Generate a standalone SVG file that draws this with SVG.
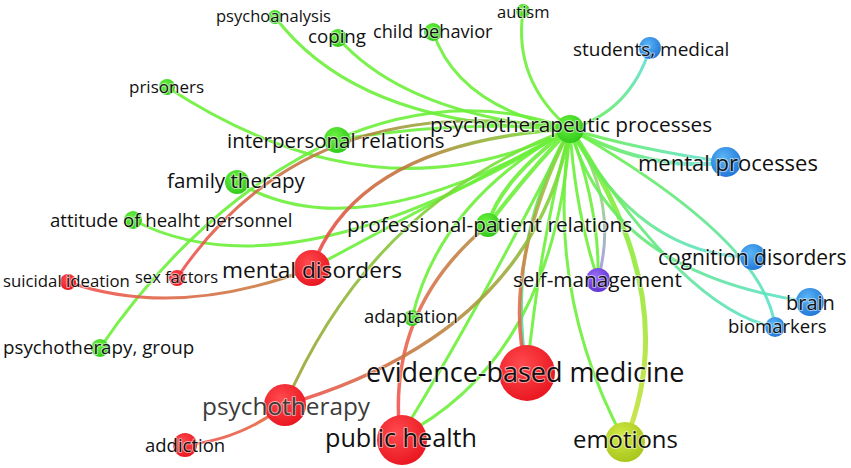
<svg xmlns="http://www.w3.org/2000/svg" width="851" height="468" viewBox="0 0 851 468">
<defs>
<style>
.e{fill:none;stroke-linecap:round;stroke-opacity:0.9}
.g{stroke:#6cf03a}
.t{font-family:"Open Sans","Noto Sans","DejaVu Sans",sans-serif;fill:#111111;stroke:#ffffff;stroke-width:2;stroke-opacity:0.55;paint-order:stroke;stroke-linejoin:round}
</style>
<radialGradient id="nG" cx="0.4" cy="0.35" r="0.7"><stop offset="0" stop-color="#6cf240"/><stop offset="1" stop-color="#2ec818"/></radialGradient>
<radialGradient id="nR" cx="0.4" cy="0.35" r="0.7"><stop offset="0" stop-color="#ff4a4e"/><stop offset="1" stop-color="#e8141e"/></radialGradient>
<radialGradient id="nB" cx="0.4" cy="0.35" r="0.7"><stop offset="0" stop-color="#5ab6f6"/><stop offset="1" stop-color="#1f74d6"/></radialGradient>
<radialGradient id="nP" cx="0.4" cy="0.35" r="0.7"><stop offset="0" stop-color="#9a6cf6"/><stop offset="1" stop-color="#5a30d0"/></radialGradient>
<radialGradient id="nY" cx="0.4" cy="0.35" r="0.7"><stop offset="0" stop-color="#d2ea46"/><stop offset="1" stop-color="#a6c41a"/></radialGradient>
<linearGradient id="gStu" gradientUnits="userSpaceOnUse" x1="650" y1="48" x2="570" y2="129"><stop offset="0" stop-color="#5ce0e0"/><stop offset="1" stop-color="#6cf03a"/></linearGradient>
<linearGradient id="gSex" gradientUnits="userSpaceOnUse" x1="177" y1="278" x2="570" y2="129"><stop offset="0" stop-color="#f25050"/><stop offset="0.55" stop-color="#b08a40"/><stop offset="1" stop-color="#6cf03a"/></linearGradient>
<linearGradient id="gMD" gradientUnits="userSpaceOnUse" x1="312" y1="268" x2="570" y2="129"><stop offset="0" stop-color="#f24848"/><stop offset="0.5" stop-color="#b8803c"/><stop offset="1" stop-color="#6cf03a"/></linearGradient>
<linearGradient id="gSui" gradientUnits="userSpaceOnUse" x1="68" y1="282" x2="312" y2="268"><stop offset="0" stop-color="#f25050"/><stop offset="1" stop-color="#c08a40"/></linearGradient>
<linearGradient id="gPH" gradientUnits="userSpaceOnUse" x1="400" y1="437" x2="488" y2="225"><stop offset="0" stop-color="#f25050"/><stop offset="0.5" stop-color="#e86a50"/><stop offset="1" stop-color="#b09040"/></linearGradient>
<linearGradient id="gEBr" gradientUnits="userSpaceOnUse" x1="527" y1="373" x2="570" y2="129"><stop offset="0" stop-color="#f25050"/><stop offset="0.5" stop-color="#d08a48"/><stop offset="1" stop-color="#6cf03a"/></linearGradient>
<linearGradient id="gEBc" gradientUnits="userSpaceOnUse" x1="527" y1="373" x2="570" y2="129"><stop offset="0" stop-color="#50d8b0"/><stop offset="1" stop-color="#6cf03a"/></linearGradient>
<linearGradient id="gPs1" gradientUnits="userSpaceOnUse" x1="285" y1="405" x2="570" y2="129"><stop offset="0" stop-color="#f25050"/><stop offset="0.45" stop-color="#b88a40"/><stop offset="1" stop-color="#6cf03a"/></linearGradient>
<linearGradient id="gPs2" gradientUnits="userSpaceOnUse" x1="285" y1="405" x2="570" y2="129"><stop offset="0" stop-color="#a0a038"/><stop offset="1" stop-color="#6cf03a"/></linearGradient>
<linearGradient id="gAdd" gradientUnits="userSpaceOnUse" x1="185" y1="445" x2="285" y2="405"><stop offset="0" stop-color="#f25050"/><stop offset="1" stop-color="#e07040"/></linearGradient>
<linearGradient id="gSM" gradientUnits="userSpaceOnUse" x1="570" y1="129" x2="598" y2="280"><stop offset="0" stop-color="#6cf03a"/><stop offset="0.5" stop-color="#9ccf8a"/><stop offset="1" stop-color="#a090f0"/></linearGradient>
<linearGradient id="gMP" gradientUnits="userSpaceOnUse" x1="570" y1="129" x2="726" y2="162"><stop offset="0" stop-color="#6cf03a"/><stop offset="1" stop-color="#5ce0e0"/></linearGradient>
<linearGradient id="gCD" gradientUnits="userSpaceOnUse" x1="570" y1="129" x2="753" y2="257"><stop offset="0" stop-color="#6cf03a"/><stop offset="1" stop-color="#5ce0e0"/></linearGradient>
<linearGradient id="gBr" gradientUnits="userSpaceOnUse" x1="570" y1="129" x2="810" y2="302"><stop offset="0" stop-color="#6cf03a"/><stop offset="1" stop-color="#5ce0d0"/></linearGradient>
<linearGradient id="gBm" gradientUnits="userSpaceOnUse" x1="570" y1="129" x2="775" y2="327"><stop offset="0" stop-color="#6cf03a"/><stop offset="1" stop-color="#5ce0d0"/></linearGradient>
<linearGradient id="gEm" gradientUnits="userSpaceOnUse" x1="570" y1="129" x2="625" y2="442"><stop offset="0" stop-color="#6cf03a"/><stop offset="1" stop-color="#c8e03c"/></linearGradient>
</defs>
<rect width="851" height="468" fill="#ffffff"/>
<g id="connectors">
<path class="e g" stroke-width="3" d="M275,17 Q358,127 570,129"/>
<path class="e g" stroke-width="3" d="M338,38 Q406,115 570,129"/>
<path class="e g" stroke-width="3" d="M433,32 Q459,108 570,129"/>
<path class="e g" stroke-width="3" d="M523,11 Q513,81 570,129"/>
<path class="e" stroke="url(#gStu)" stroke-width="3" d="M650,48 Q630,112 570,129"/>
<path class="e g" stroke-width="3" d="M167,87 Q378,225 570,129"/>
<path class="e g" stroke-width="3" d="M337,140 Q450,120 570,129"/>
<path class="e g" stroke-width="3" d="M237,182 Q357,254 570,129"/>
<path class="e g" stroke-width="3" d="M133,220 Q288,301 570,129"/>
<path class="e g" stroke-width="3" d="M100,348 C200,200 380,60 570,129"/>
<path class="e" stroke="url(#gSex)" stroke-width="3" d="M177,278 Q307,85 570,129"/>
<path class="e" stroke="url(#gMD)" stroke-width="3.5" d="M312,268 Q357,142 570,129"/>
<path class="e g" stroke-width="3" d="M312,268 Q440,200 570,129"/>
<path class="e" stroke="url(#gSui)" stroke-width="3" d="M68,282 Q178,320 312,268"/>
<path class="e g" stroke-width="4" d="M488,225 Q500,180 570,129"/>
<path class="e g" stroke-width="4" d="M488,225 Q530,170 570,129"/>
<path class="e g" stroke-width="3" d="M412,318 Q440,200 570,129"/>
<path class="e g" stroke-width="3" d="M400,437 Q475,317 570,129"/>
<path class="e g" stroke-width="3" d="M400,437 Q555,357 570,129"/>
<path class="e" stroke="url(#gPH)" stroke-width="3.5" d="M400,437 Q386,309 488,225"/>
<path class="e" stroke="url(#gEBc)" stroke-width="3" d="M527,373 Q505,240 570,129"/>
<path class="e g" stroke-width="3" d="M527,373 Q540,240 570,129"/>
<path class="e" stroke="url(#gEBr)" stroke-width="3.5" d="M527,373 Q500,270 570,129"/>
<path class="e g" stroke-width="3" d="M625,442 Q545,295 570,129"/>
<path class="e" stroke="url(#gEm)" stroke-width="5" d="M625,442 Q685,296 570,129"/>
<path class="e g" stroke-width="3" d="M598,280 Q575,210 570,129"/>
<path class="e" stroke="url(#gSM)" stroke-width="3" d="M598,280 Q620,200 570,129"/>
<path class="e g" stroke-width="3" d="M598,280 Q600,210 570,129"/>
<path class="e" stroke="url(#gPs1)" stroke-width="3.5" d="M285,405 Q532,333 570,129"/>
<path class="e" stroke="url(#gPs2)" stroke-width="3" d="M285,405 Q372,202 570,129"/>
<path class="e" stroke="url(#gAdd)" stroke-width="3" d="M185,445 Q240,440 285,405"/>
<path class="e" stroke="url(#gMP)" stroke-width="4" d="M570,129 Q653,173 726,162"/>
<path class="e" stroke="url(#gMP)" stroke-width="3" d="M570,129 Q640,150 726,162"/>
<path class="e" stroke="url(#gCD)" stroke-width="3" d="M570,129 Q640,257 753,257"/>
<path class="e" stroke="url(#gBr)" stroke-width="3" d="M570,129 Q611,274 810,302"/>
<path class="e" stroke="url(#gBm)" stroke-width="3" d="M570,129 Q765,241 775,327"/>
<path class="e" stroke="url(#gBm)" stroke-width="3" d="M570,129 Q686,311 775,327"/>
</g>
<g id="node-psychoanalysis"><circle cx="275" cy="17" r="7" fill="url(#nG)"/><text class="t" x="216" y="22" font-size="16.5">psychoanalysis</text></g>
<g id="node-coping"><circle cx="338" cy="38" r="9" fill="url(#nG)"/><text class="t" x="308" y="43" font-size="18.7">coping</text></g>
<g id="node-child-behavior"><circle cx="433" cy="32" r="9" fill="url(#nG)"/><text class="t" x="373" y="38" font-size="18.2">child behavior</text></g>
<g id="node-autism"><circle cx="523" cy="11" r="7" fill="url(#nG)"/><text class="t" x="497" y="18" font-size="16.5">autism</text></g>
<g id="node-students-medical"><circle cx="650" cy="48" r="11" fill="url(#nB)"/><text class="t" x="573" y="56" font-size="19">students, medical</text></g>
<g id="node-prisoners"><circle cx="167" cy="87" r="8" fill="url(#nG)"/><text class="t" x="129" y="93" font-size="17">prisoners</text></g>
<g id="node-interpersonal-relations"><circle cx="337" cy="140" r="13" fill="url(#nG)"/><text class="t" x="227" y="148" font-size="20.5">interpersonal relations</text></g>
<g id="node-psychotherapeutic-processes"><circle cx="570" cy="129" r="14" fill="url(#nG)"/><text class="t" x="430" y="132" font-size="20.8">psychotherapeutic processes</text></g>
<g id="node-mental-processes"><circle cx="726" cy="162" r="15" fill="url(#nB)"/><text class="t" x="638" y="171" font-size="22">mental processes</text></g>
<g id="node-family-therapy"><circle cx="237" cy="182" r="12" fill="url(#nG)"/><text class="t" x="167" y="188" font-size="20.6">family therapy</text></g>
<g id="node-attitude"><circle cx="133" cy="220" r="9" fill="url(#nG)"/><text class="t" x="50" y="227" font-size="18.6">attitude of healht personnel</text></g>
<g id="node-professional-patient-relations"><circle cx="488" cy="225" r="12" fill="url(#nG)"/><text class="t" x="347" y="232" font-size="20.8">professional-patient relations</text></g>
<g id="node-mental-disorders"><circle cx="312" cy="268" r="18" fill="url(#nR)"/><text class="t" x="222" y="278" font-size="22.7">mental disorders</text></g>
<g id="node-suicidal-ideation"><circle cx="68" cy="282" r="8" fill="url(#nR)"/><text class="t" x="3" y="287" font-size="16.8">suicidal ideation</text></g>
<g id="node-sex-factors"><circle cx="177" cy="278" r="8" fill="url(#nR)"/><text class="t" x="135" y="283" font-size="16.5">sex factors</text></g>
<g id="node-self-management"><circle cx="598" cy="280" r="12" fill="url(#nP)"/><text class="t" x="513" y="287" font-size="20.7">self-management</text></g>
<g id="node-cognition-disorders"><circle cx="753" cy="257" r="13" fill="url(#nB)"/><text class="t" x="658" y="265" font-size="21">cognition disorders</text></g>
<g id="node-brain"><circle cx="810" cy="302" r="14" fill="url(#nB)"/><text class="t" x="786" y="310" font-size="20">brain</text></g>
<g id="node-biomarkers"><circle cx="775" cy="327" r="10" fill="url(#nB)"/><text class="t" x="728" y="333" font-size="18.5">biomarkers</text></g>
<g id="node-adaptation"><circle cx="412" cy="318" r="8" fill="url(#nG)"/><text class="t" x="364" y="323" font-size="18.5">adaptation</text></g>
<g id="node-psychotherapy-group"><circle cx="100" cy="348" r="9" fill="url(#nG)"/><text class="t" x="3" y="354" font-size="18.8">psychotherapy, group</text></g>
<g id="node-evidence-based-medicine"><circle cx="527" cy="373" r="28" fill="url(#nR)"/><text class="t" x="366" y="382" font-size="27">evidence-based medicine</text></g>
<g id="node-psychotherapy"><circle cx="285" cy="405" r="21" fill="url(#nR)"/><text class="t" x="202" y="415" font-size="24.4" style="fill:#3c3c3c">psychotherapy</text></g>
<g id="node-addiction"><circle cx="185" cy="445" r="12" fill="url(#nR)"/><text class="t" x="145" y="452" font-size="18.5">addiction</text></g>
<g id="node-public-health"><circle cx="402" cy="440" r="25" fill="url(#nR)"/><text class="t" x="325" y="447" font-size="25.2">public health</text></g>
<g id="node-emotions"><circle cx="625" cy="442" r="20" fill="url(#nY)"/><text class="t" x="573" y="448" font-size="23.9">emotions</text></g>
</svg>
